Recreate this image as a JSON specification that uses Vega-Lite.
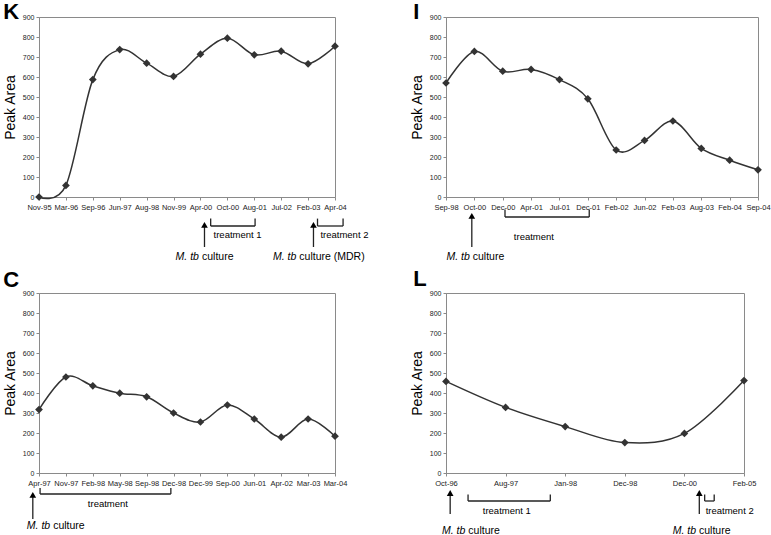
{
  "$schema": "https://vega.github.io/schema/vega-lite/v6.json",
  "autosize": {"type": "pad"},
  "padding": {"left": 2, "top": 0, "right": 0, "bottom": 0},
  "background": "white",
  "datasets": {
    "K": [
      {"i": 0, "date": "Nov-95", "v": 0},
      {"i": 1, "date": "Mar-96", "v": 58},
      {"i": 2, "date": "Sep-96", "v": 587},
      {"i": 3, "date": "Jun-97", "v": 737},
      {"i": 4, "date": "Aug-98", "v": 669},
      {"i": 5, "date": "Nov-99", "v": 603},
      {"i": 6, "date": "Apr-00", "v": 714},
      {"i": 7, "date": "Oct-00", "v": 794},
      {"i": 8, "date": "Aug-01", "v": 711},
      {"i": 9, "date": "Jul-02", "v": 729},
      {"i": 10, "date": "Feb-03", "v": 666},
      {"i": 11, "date": "Apr-04", "v": 754}
    ],
    "K_arrow": [{"x": 6.15}, {"x": 10.2}],
    "K_br": [
      {"a": 6.38, "b": 8.03, "c": 7.38, "label": "treatment 1"},
      {"a": 10.35, "b": 11.3, "c": 11.35, "label": "treatment 2"}
    ],
    "K_cult": [
      {"s": 6.0, "it": "M. tb", "rest": "culture"},
      {"s": 9.62, "it": "M. tb", "rest": "culture (MDR)"}
    ],
    "I": [
      {"i": 0, "date": "Sep-98", "v": 570},
      {"i": 1, "date": "Oct-00", "v": 728},
      {"i": 2, "date": "Dec-00", "v": 629},
      {"i": 3, "date": "Apr-01", "v": 638},
      {"i": 4, "date": "Jul-01", "v": 587},
      {"i": 5, "date": "Dec-01", "v": 491},
      {"i": 6, "date": "Feb-02", "v": 235},
      {"i": 7, "date": "Jun-02", "v": 283},
      {"i": 8, "date": "Feb-03", "v": 380},
      {"i": 9, "date": "Aug-03", "v": 243},
      {"i": 10, "date": "Feb-04", "v": 184},
      {"i": 11, "date": "Sep-04", "v": 136}
    ],
    "I_arrow": [{"x": 0.91}],
    "I_br": [{"a": 2.08, "b": 5.05, "c": 3.1, "label": "treatment"}],
    "I_cult": [{"s": 0.89, "it": "M. tb", "rest": "culture"}],
    "C": [
      {"i": 0, "date": "Apr-97", "v": 317},
      {"i": 1, "date": "Nov-97", "v": 480},
      {"i": 2, "date": "Feb-98", "v": 436},
      {"i": 3, "date": "May-98", "v": 399},
      {"i": 4, "date": "Sep-98", "v": 381},
      {"i": 5, "date": "Dec-98", "v": 300},
      {"i": 6, "date": "Dec-99", "v": 255},
      {"i": 7, "date": "Sep-00", "v": 340},
      {"i": 8, "date": "Jun-01", "v": 270},
      {"i": 9, "date": "Apr-02", "v": 179},
      {"i": 10, "date": "Mar-03", "v": 270},
      {"i": 11, "date": "Mar-04", "v": 184}
    ],
    "C_arrow": [{"x": -0.23}],
    "C_br": [{"a": 0.04, "b": 4.9, "c": 2.56, "label": "treatment"}],
    "C_cult": [{"s": 0.47, "it": "M. tb", "rest": "culture"}],
    "L": [
      {"i": 0, "date": "Oct-96", "v": 458},
      {"i": 1, "date": "Aug-97", "v": 328},
      {"i": 2, "date": "Jan-98", "v": 232},
      {"i": 3, "date": "Dec-98", "v": 152},
      {"i": 4, "date": "Dec-00", "v": 198},
      {"i": 5, "date": "Feb-05", "v": 462}
    ],
    "L_arrow": [{"x": 0.07}, {"x": 4.25}],
    "L_br": [
      {"a": 0.37, "b": 1.75, "c": 1.02, "label": "treatment 1"},
      {"a": 4.34, "b": 4.5, "c": 4.76, "label": "treatment 2"}
    ],
    "L_cult": [
      {"s": 0.35, "it": "M. tb", "rest": "culture"},
      {"s": 4.22, "it": "M. tb", "rest": "culture"}
    ]
  },
  "columns": 2,
  "bounds": "flush",
  "spacing": {"row": 96, "column": 111},
  "concat": [
    {
      "width": 296, "height": 180,
      "title": {"text": "K", "offset": -11, "dx": 0},
      "resolve": {"scale": {"x": "independent"}},
      "layer": [
        {"data": {"name": "K"}, "mark": {"type": "line"},
         "encoding": {"x": {"field": "i", "type": "quantitative", "scale": {"domain": [0, 11], "nice": false, "zero": false}, "axis": null},
                      "y": {"field": "v", "type": "quantitative", "title": "Peak Area", "scale": {"domain": [0, 900]}}}},
        {"data": {"name": "K"}, "mark": {"type": "point", "shape": "diamond", "filled": true, "size": 60, "color": "#333", "opacity": 1},
         "encoding": {"x": {"field": "date", "type": "nominal", "sort": null, "title": null, "scale": {"type": "point", "padding": 0}, "axis": {"labelOverlap": false}},
                      "y": {"field": "v", "type": "quantitative", "title": "Peak Area", "scale": {"domain": [0, 900]}}}},
        {"data": {"name": "K_arrow"}, "mark": {"type": "rule"},
         "encoding": {"x": {"field": "x", "type": "quantitative", "scale": {"domain": [0, 11], "nice": false, "zero": false}, "axis": null},
                      "y": {"datum": -250, "title": "Peak Area", "scale": {"domain": [0, 900]}}, "y2": {"datum": -140}}},
        {"data": {"name": "K_arrow"}, "mark": {"type": "point", "shape": "triangle-up", "filled": true, "size": 45, "color": "#000", "opacity": 1},
         "encoding": {"x": {"field": "x", "type": "quantitative", "scale": {"domain": [0, 11], "nice": false, "zero": false}, "axis": null},
                      "y": {"datum": -139, "title": "Peak Area", "scale": {"domain": [0, 900]}}}},
        {"data": {"name": "K_br"}, "mark": {"type": "rule"},
         "encoding": {"x": {"field": "a", "type": "quantitative", "scale": {"domain": [0, 11], "nice": false, "zero": false}, "axis": null}, "x2": {"field": "b"},
                      "y": {"datum": -145, "title": "Peak Area", "scale": {"domain": [0, 900]}}}},
        {"data": {"name": "K_br"}, "mark": {"type": "rule"},
         "encoding": {"x": {"field": "a", "type": "quantitative", "scale": {"domain": [0, 11], "nice": false, "zero": false}, "axis": null},
                      "y": {"datum": -145, "title": "Peak Area", "scale": {"domain": [0, 900]}}, "y2": {"datum": -108}}},
        {"data": {"name": "K_br"}, "mark": {"type": "rule"},
         "encoding": {"x": {"field": "b", "type": "quantitative", "scale": {"domain": [0, 11], "nice": false, "zero": false}, "axis": null},
                      "y": {"datum": -145, "title": "Peak Area", "scale": {"domain": [0, 900]}}, "y2": {"datum": -108}}},
        {"data": {"name": "K_br"}, "mark": {"type": "text", "fontSize": 9.5, "baseline": "middle"},
         "encoding": {"x": {"field": "c", "type": "quantitative", "scale": {"domain": [0, 11], "nice": false, "zero": false}, "axis": null},
                      "y": {"datum": -190, "title": "Peak Area", "scale": {"domain": [0, 900]}}, "text": {"field": "label"}}},
        {"data": {"name": "K_cult"}, "mark": {"type": "text", "fontSize": 10.5, "fontStyle": "italic", "align": "right", "dx": -1.5, "baseline": "middle"},
         "encoding": {"x": {"field": "s", "type": "quantitative", "scale": {"domain": [0, 11], "nice": false, "zero": false}, "axis": null},
                      "y": {"datum": -300, "title": "Peak Area", "scale": {"domain": [0, 900]}}, "text": {"field": "it"}}},
        {"data": {"name": "K_cult"}, "mark": {"type": "text", "fontSize": 10.5, "align": "left", "dx": 1.5, "baseline": "middle"},
         "encoding": {"x": {"field": "s", "type": "quantitative", "scale": {"domain": [0, 11], "nice": false, "zero": false}, "axis": null},
                      "y": {"datum": -300, "title": "Peak Area", "scale": {"domain": [0, 900]}}, "text": {"field": "rest"}}}
      ]
    },
    {
      "width": 312, "height": 180,
      "title": {"text": "I", "offset": -11, "dx": 3},
      "resolve": {"scale": {"x": "independent"}},
      "layer": [
        {"data": {"name": "I"}, "mark": {"type": "line"},
         "encoding": {"x": {"field": "i", "type": "quantitative", "scale": {"domain": [0, 11], "nice": false, "zero": false}, "axis": null},
                      "y": {"field": "v", "type": "quantitative", "title": "Peak Area", "scale": {"domain": [0, 900]}}}},
        {"data": {"name": "I"}, "mark": {"type": "point", "shape": "diamond", "filled": true, "size": 60, "color": "#333", "opacity": 1},
         "encoding": {"x": {"field": "date", "type": "nominal", "sort": null, "title": null, "scale": {"type": "point", "padding": 0}, "axis": {"labelOverlap": false}},
                      "y": {"field": "v", "type": "quantitative", "title": "Peak Area", "scale": {"domain": [0, 900]}}}},
        {"data": {"name": "I_arrow"}, "mark": {"type": "rule"},
         "encoding": {"x": {"field": "x", "type": "quantitative", "scale": {"domain": [0, 11], "nice": false, "zero": false}, "axis": null},
                      "y": {"datum": -250, "title": "Peak Area", "scale": {"domain": [0, 900]}}, "y2": {"datum": -95}}},
        {"data": {"name": "I_arrow"}, "mark": {"type": "point", "shape": "triangle-up", "filled": true, "size": 45, "color": "#000", "opacity": 1},
         "encoding": {"x": {"field": "x", "type": "quantitative", "scale": {"domain": [0, 11], "nice": false, "zero": false}, "axis": null},
                      "y": {"datum": -94, "title": "Peak Area", "scale": {"domain": [0, 900]}}}},
        {"data": {"name": "I_br"}, "mark": {"type": "rule"},
         "encoding": {"x": {"field": "a", "type": "quantitative", "scale": {"domain": [0, 11], "nice": false, "zero": false}, "axis": null}, "x2": {"field": "b"},
                      "y": {"datum": -100, "title": "Peak Area", "scale": {"domain": [0, 900]}}}},
        {"data": {"name": "I_br"}, "mark": {"type": "rule"},
         "encoding": {"x": {"field": "a", "type": "quantitative", "scale": {"domain": [0, 11], "nice": false, "zero": false}, "axis": null},
                      "y": {"datum": -100, "title": "Peak Area", "scale": {"domain": [0, 900]}}, "y2": {"datum": -62}}},
        {"data": {"name": "I_br"}, "mark": {"type": "rule"},
         "encoding": {"x": {"field": "b", "type": "quantitative", "scale": {"domain": [0, 11], "nice": false, "zero": false}, "axis": null},
                      "y": {"datum": -100, "title": "Peak Area", "scale": {"domain": [0, 900]}}, "y2": {"datum": -62}}},
        {"data": {"name": "I_br"}, "mark": {"type": "text", "fontSize": 9.5, "baseline": "middle"},
         "encoding": {"x": {"field": "c", "type": "quantitative", "scale": {"domain": [0, 11], "nice": false, "zero": false}, "axis": null},
                      "y": {"datum": -200, "title": "Peak Area", "scale": {"domain": [0, 900]}}, "text": {"field": "label"}}},
        {"data": {"name": "I_cult"}, "mark": {"type": "text", "fontSize": 10.5, "fontStyle": "italic", "align": "right", "dx": -1.5, "baseline": "middle"},
         "encoding": {"x": {"field": "s", "type": "quantitative", "scale": {"domain": [0, 11], "nice": false, "zero": false}, "axis": null},
                      "y": {"datum": -300, "title": "Peak Area", "scale": {"domain": [0, 900]}}, "text": {"field": "it"}}},
        {"data": {"name": "I_cult"}, "mark": {"type": "text", "fontSize": 10.5, "align": "left", "dx": 1.5, "baseline": "middle"},
         "encoding": {"x": {"field": "s", "type": "quantitative", "scale": {"domain": [0, 11], "nice": false, "zero": false}, "axis": null},
                      "y": {"datum": -300, "title": "Peak Area", "scale": {"domain": [0, 900]}}, "text": {"field": "rest"}}}
      ]
    },
    {
      "width": 296, "height": 180,
      "title": {"text": "C", "offset": -3, "dx": 0},
      "resolve": {"scale": {"x": "independent"}},
      "layer": [
        {"data": {"name": "C"}, "mark": {"type": "line"},
         "encoding": {"x": {"field": "i", "type": "quantitative", "scale": {"domain": [0, 11], "nice": false, "zero": false}, "axis": null},
                      "y": {"field": "v", "type": "quantitative", "title": "Peak Area", "scale": {"domain": [0, 900]}}}},
        {"data": {"name": "C"}, "mark": {"type": "point", "shape": "diamond", "filled": true, "size": 60, "color": "#333", "opacity": 1},
         "encoding": {"x": {"field": "date", "type": "nominal", "sort": null, "title": null, "scale": {"type": "point", "padding": 0}, "axis": {"labelOverlap": false}},
                      "y": {"field": "v", "type": "quantitative", "title": "Peak Area", "scale": {"domain": [0, 900]}}}},
        {"data": {"name": "C_arrow"}, "mark": {"type": "rule"},
         "encoding": {"x": {"field": "x", "type": "quantitative", "scale": {"domain": [0, 11], "nice": false, "zero": false}, "axis": null},
                      "y": {"datum": -230, "title": "Peak Area", "scale": {"domain": [0, 900]}}, "y2": {"datum": -110}}},
        {"data": {"name": "C_arrow"}, "mark": {"type": "point", "shape": "triangle-up", "filled": true, "size": 45, "color": "#000", "opacity": 1},
         "encoding": {"x": {"field": "x", "type": "quantitative", "scale": {"domain": [0, 11], "nice": false, "zero": false}, "axis": null},
                      "y": {"datum": -109, "title": "Peak Area", "scale": {"domain": [0, 900]}}}},
        {"data": {"name": "C_br"}, "mark": {"type": "rule"},
         "encoding": {"x": {"field": "a", "type": "quantitative", "scale": {"domain": [0, 11], "nice": false, "zero": false}, "axis": null}, "x2": {"field": "b"},
                      "y": {"datum": -105, "title": "Peak Area", "scale": {"domain": [0, 900]}}}},
        {"data": {"name": "C_br"}, "mark": {"type": "rule"},
         "encoding": {"x": {"field": "a", "type": "quantitative", "scale": {"domain": [0, 11], "nice": false, "zero": false}, "axis": null},
                      "y": {"datum": -105, "title": "Peak Area", "scale": {"domain": [0, 900]}}, "y2": {"datum": -75}}},
        {"data": {"name": "C_br"}, "mark": {"type": "rule"},
         "encoding": {"x": {"field": "b", "type": "quantitative", "scale": {"domain": [0, 11], "nice": false, "zero": false}, "axis": null},
                      "y": {"datum": -105, "title": "Peak Area", "scale": {"domain": [0, 900]}}, "y2": {"datum": -75}}},
        {"data": {"name": "C_br"}, "mark": {"type": "text", "fontSize": 9.5, "baseline": "middle"},
         "encoding": {"x": {"field": "c", "type": "quantitative", "scale": {"domain": [0, 11], "nice": false, "zero": false}, "axis": null},
                      "y": {"datum": -157, "title": "Peak Area", "scale": {"domain": [0, 900]}}, "text": {"field": "label"}}},
        {"data": {"name": "C_cult"}, "mark": {"type": "text", "fontSize": 10.5, "fontStyle": "italic", "align": "right", "dx": -1.5, "baseline": "middle"},
         "encoding": {"x": {"field": "s", "type": "quantitative", "scale": {"domain": [0, 11], "nice": false, "zero": false}, "axis": null},
                      "y": {"datum": -265, "title": "Peak Area", "scale": {"domain": [0, 900]}}, "text": {"field": "it"}}},
        {"data": {"name": "C_cult"}, "mark": {"type": "text", "fontSize": 10.5, "align": "left", "dx": 1.5, "baseline": "middle"},
         "encoding": {"x": {"field": "s", "type": "quantitative", "scale": {"domain": [0, 11], "nice": false, "zero": false}, "axis": null},
                      "y": {"datum": -265, "title": "Peak Area", "scale": {"domain": [0, 900]}}, "text": {"field": "rest"}}}
      ]
    },
    {
      "width": 298, "height": 180,
      "title": {"text": "L", "offset": -2, "dx": 3},
      "resolve": {"scale": {"x": "independent"}},
      "layer": [
        {"data": {"name": "L"}, "mark": {"type": "line"},
         "encoding": {"x": {"field": "i", "type": "quantitative", "scale": {"domain": [0, 5], "nice": false, "zero": false}, "axis": null},
                      "y": {"field": "v", "type": "quantitative", "title": "Peak Area", "scale": {"domain": [0, 900]}}}},
        {"data": {"name": "L"}, "mark": {"type": "point", "shape": "diamond", "filled": true, "size": 60, "color": "#333", "opacity": 1},
         "encoding": {"x": {"field": "date", "type": "nominal", "sort": null, "title": null, "scale": {"type": "point", "padding": 0}, "axis": {"labelOverlap": false}},
                      "y": {"field": "v", "type": "quantitative", "title": "Peak Area", "scale": {"domain": [0, 900]}}}},
        {"data": {"name": "L_arrow"}, "mark": {"type": "rule"},
         "encoding": {"x": {"field": "x", "type": "quantitative", "scale": {"domain": [0, 5], "nice": false, "zero": false}, "axis": null},
                      "y": {"datum": -205, "title": "Peak Area", "scale": {"domain": [0, 900]}}, "y2": {"datum": -100}}},
        {"data": {"name": "L_arrow"}, "mark": {"type": "point", "shape": "triangle-up", "filled": true, "size": 45, "color": "#000", "opacity": 1},
         "encoding": {"x": {"field": "x", "type": "quantitative", "scale": {"domain": [0, 5], "nice": false, "zero": false}, "axis": null},
                      "y": {"datum": -100, "title": "Peak Area", "scale": {"domain": [0, 900]}}}},
        {"data": {"name": "L_br"}, "mark": {"type": "rule"},
         "encoding": {"x": {"field": "a", "type": "quantitative", "scale": {"domain": [0, 5], "nice": false, "zero": false}, "axis": null}, "x2": {"field": "b"},
                      "y": {"datum": -140, "title": "Peak Area", "scale": {"domain": [0, 900]}}}},
        {"data": {"name": "L_br"}, "mark": {"type": "rule"},
         "encoding": {"x": {"field": "a", "type": "quantitative", "scale": {"domain": [0, 5], "nice": false, "zero": false}, "axis": null},
                      "y": {"datum": -140, "title": "Peak Area", "scale": {"domain": [0, 900]}}, "y2": {"datum": -108}}},
        {"data": {"name": "L_br"}, "mark": {"type": "rule"},
         "encoding": {"x": {"field": "b", "type": "quantitative", "scale": {"domain": [0, 5], "nice": false, "zero": false}, "axis": null},
                      "y": {"datum": -140, "title": "Peak Area", "scale": {"domain": [0, 900]}}, "y2": {"datum": -108}}},
        {"data": {"name": "L_br"}, "mark": {"type": "text", "fontSize": 9.5, "baseline": "middle"},
         "encoding": {"x": {"field": "c", "type": "quantitative", "scale": {"domain": [0, 5], "nice": false, "zero": false}, "axis": null},
                      "y": {"datum": -190, "title": "Peak Area", "scale": {"domain": [0, 900]}}, "text": {"field": "label"}}},
        {"data": {"name": "L_cult"}, "mark": {"type": "text", "fontSize": 10.5, "fontStyle": "italic", "align": "right", "dx": -1.5, "baseline": "middle"},
         "encoding": {"x": {"field": "s", "type": "quantitative", "scale": {"domain": [0, 5], "nice": false, "zero": false}, "axis": null},
                      "y": {"datum": -288, "title": "Peak Area", "scale": {"domain": [0, 900]}}, "text": {"field": "it"}}},
        {"data": {"name": "L_cult"}, "mark": {"type": "text", "fontSize": 10.5, "align": "left", "dx": 1.5, "baseline": "middle"},
         "encoding": {"x": {"field": "s", "type": "quantitative", "scale": {"domain": [0, 5], "nice": false, "zero": false}, "axis": null},
                      "y": {"datum": -288, "title": "Peak Area", "scale": {"domain": [0, 900]}}, "text": {"field": "rest"}}}
      ]
    }
  ],
  "config": {
    "font": "Liberation Sans",
    "view": {"stroke": "#8a8a8a", "strokeWidth": 1},
    "axis": {"grid": false, "domainColor": "#8a8a8a", "tickColor": "#8a8a8a", "tickSize": 3, "labelColor": "#222", "labelFont": "Liberation Sans", "titleFont": "Liberation Sans", "labelOverlap": false},
    "axisY": {"labelFontSize": 7, "tickCount": 10, "titleFontSize": 14, "titleFontWeight": "normal", "titleColor": "#000", "labelPadding": 2, "titlePadding": 5},
    "axisX": {"labelFontSize": 7.5, "labelAngle": 0, "labelPadding": 3},
    "title": {"fontSize": 22, "fontWeight": "bold", "anchor": "start", "frame": "bounds", "color": "#000", "font": "Liberation Sans"},
    "line": {"interpolate": "cardinal", "color": "#333", "strokeWidth": 1.5},
    "rule": {"color": "#222", "strokeWidth": 1.3},
    "text": {"fontSize": 10, "color": "#000", "font": "Liberation Sans"}
  }
}
